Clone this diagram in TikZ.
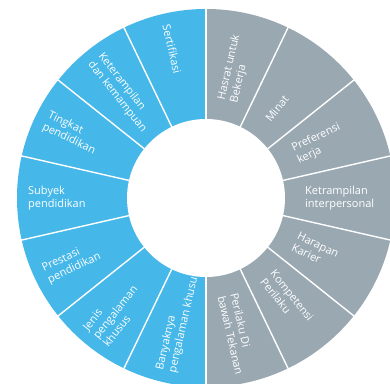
\documentclass[tikz,border=0pt]{standalone}
\usepackage{fontspec}
\setmainfont{Open Sans}

\definecolor{segblue}{HTML}{45B7E9}
\definecolor{seggrey}{HTML}{9AA8B2}

\tikzset{
	lbl/.style={white, anchor=west, align=left, inner sep=0pt, font=\fontsize{11}{13}\selectfont},
	divider/.style={white, line width=1.4pt},
}

\begin{document}
\begin{tikzpicture}[x=1pt, y=1pt]
			\clip (0,0) rectangle (390,383);
			\fill[white] (0,0) rectangle (390,383);
			\begin{scope}[shift={(206,185)}]
			\coordinate (C) at (0,0);
			% two halves of the ring
			\fill[segblue] (90:189) arc[start angle=90, end angle=270, radius=189] -- cycle;
			\fill[seggrey] (-90:189) arc[start angle=-90, end angle=90, radius=189] -- cycle;
			\foreach \i in {0,...,13}
				\draw[divider] ({90+\i*360/14}:76) -- ({90+\i*360/14}:195);
			\fill[white] (C) circle[radius=79];
			
			% left half, read towards the centre
			\node[lbl, rotate=282.86] (sert) at (102.86:178) {Sertifikasi};
			\node[lbl, rotate=308.57] (ket) at (128.57:178) {Keterampilan\\dan kemampuan};
			\node[lbl, rotate=334.29] (ting) at (154.29:178) {Tingkat\\pendidikan};
			\node[lbl] (sub) at (180:178) {Subyek\\pendidikan};
			\node[lbl, rotate=25.71] (pres) at (205.71:178) {Prestasi\\pendidikan};
			\node[lbl, rotate=51.43] (jen) at (231.43:178) {Jenis\\pengalaman\\khusus};
			\node[lbl, rotate=77.14] (ban) at (257.14:178) {Banyaknya\\pengalaman khusus};
			
			% right half, read away from the centre
			\node[lbl, rotate=77.14] (has) at (77.14:99) {Hasrat untuk\\Bekerja};
			\node[lbl, rotate=51.43] (min) at (51.43:99) {Minat};
			\node[lbl, rotate=25.71] (pref) at (25.71:99) {Preferensi\\kerja};
			\node[lbl] (inter) at (0:99) {Ketrampilan\\interpersonal};
			\node[lbl, rotate=-25.71] (har) at (-25.71:99) {Harapan\\Karier};
			\node[lbl, rotate=-51.43] (komp) at (-51.43:99) {Kompetensi\\Perilaku};
			\node[lbl, rotate=-77.14] (per) at (-77.14:99) {Perilaku Di\\bawah Tekanan};
			\end{scope}
\end{tikzpicture}
\end{document}
